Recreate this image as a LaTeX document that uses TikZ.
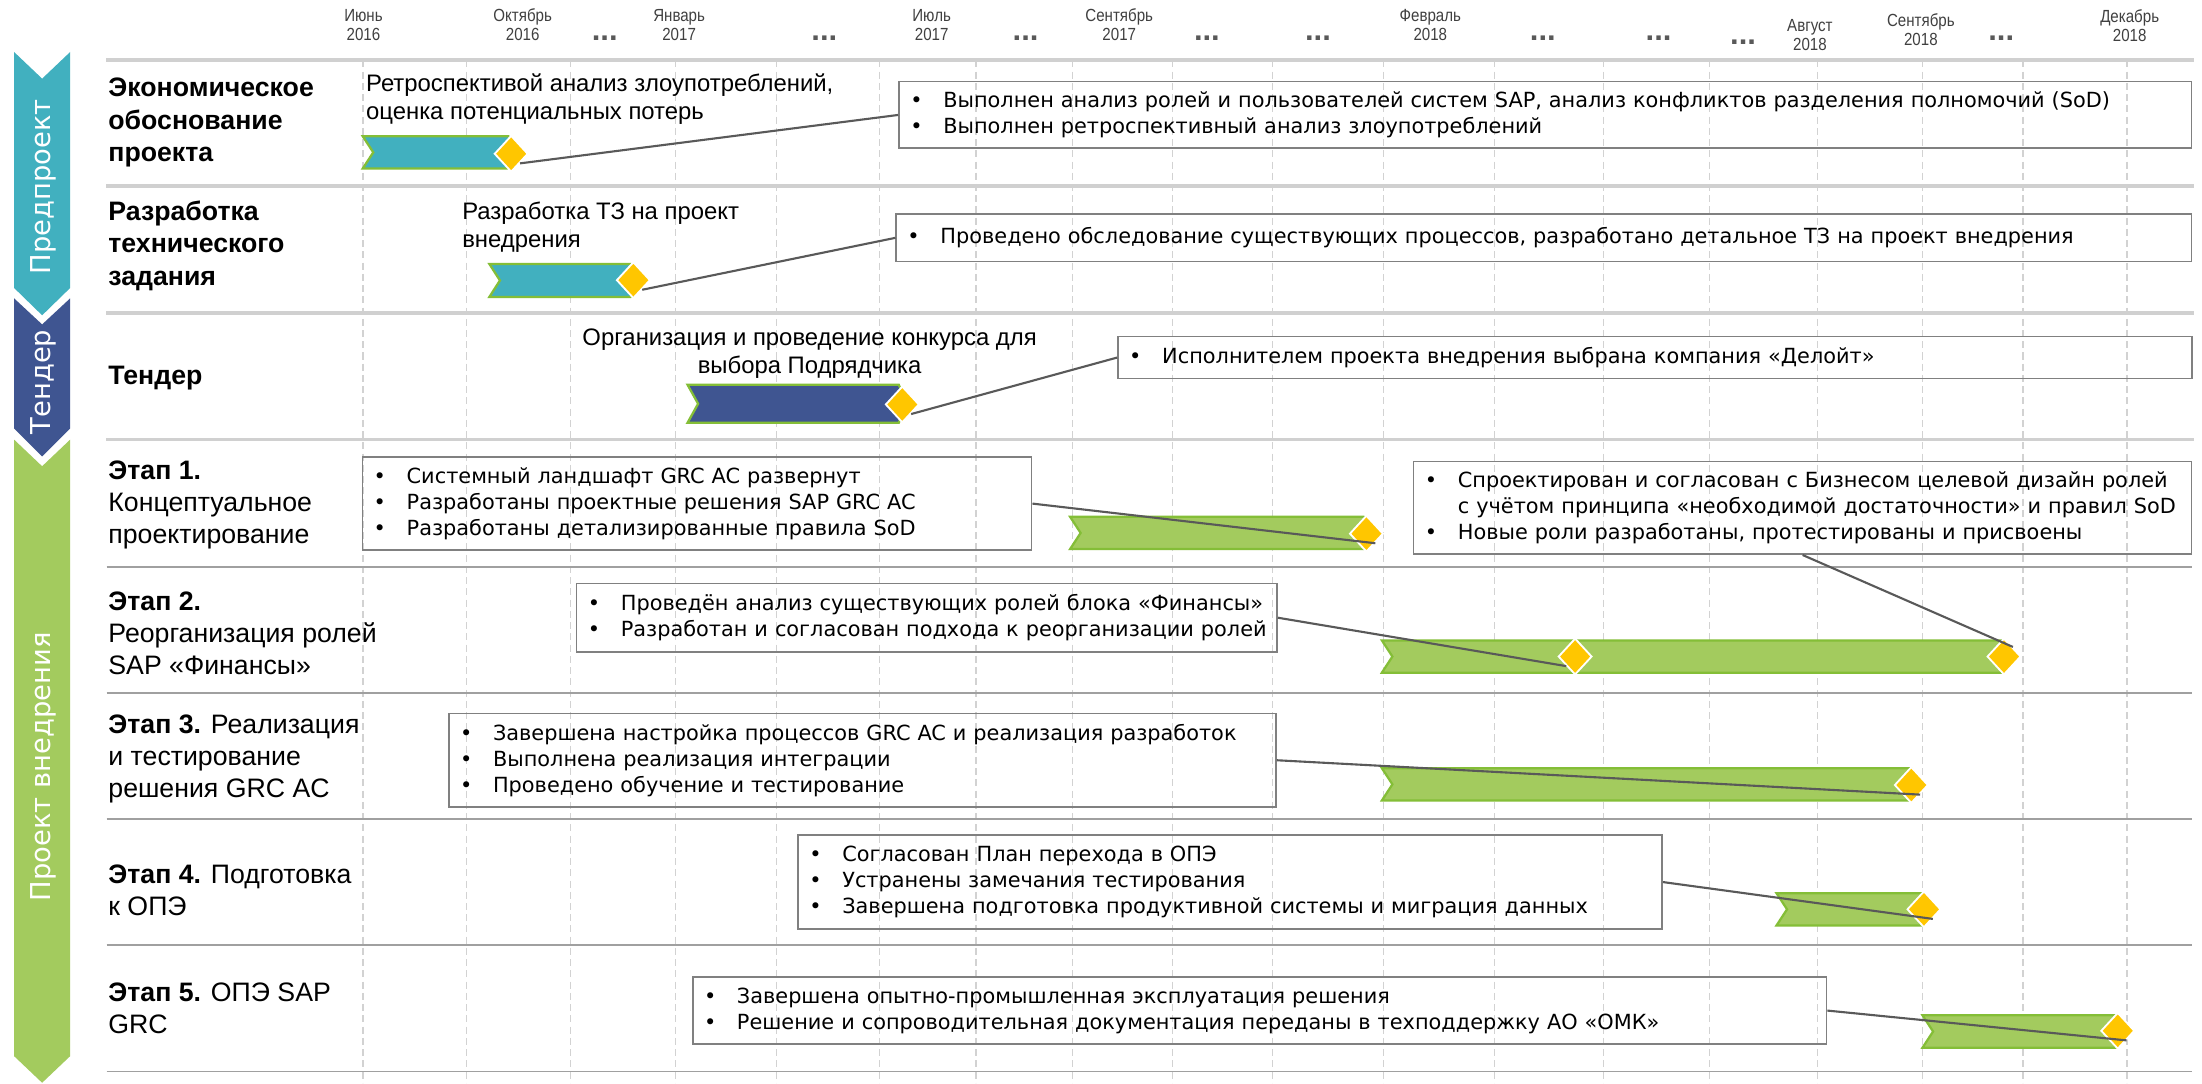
\documentclass[tikz,border=0pt]{standalone}
\usepackage{fontspec}
\setmainfont{Liberation Sans}
\newfontfamily\boxfont{DejaVu Sans}
\newfontfamily\datefont{Liberation Sans}[FakeStretch=0.86]
\usepackage{tikz}
\usetikzlibrary{shapes.geometric,positioning,calc}
\definecolor{omkTeal}{RGB}{65,176,191}
\definecolor{omkBlue}{RGB}{63,85,145}
\definecolor{omkGreen}{RGB}{163,203,94}
\definecolor{omkEdge}{RGB}{132,190,55}
\definecolor{omkYellow}{RGB}{255,198,0}
\definecolor{omkGrid}{RGB}{210,210,210}
\definecolor{omkRule}{RGB}{208,208,208}
\definecolor{omkRuleDark}{RGB}{160,160,160}
\definecolor{omkBox}{RGB}{128,128,128}
\definecolor{omkLine}{RGB}{89,89,89}
\definecolor{omkDate}{RGB}{64,64,64}
\newcommand{\bitem}[1]{\mbox{\makebox[23.5pt][l]{\textbullet}#1}}
\newcommand{\bcont}[1]{\mbox{\hspace*{23.5pt}#1}}
% fill colour, x from, x to, y middle, half height
\newcommand{\ganttbar}[5]{%
  \filldraw[ganttedge,fill=#1] (#2,#4-#5) -- (#3,#4-#5) -- (#3+6,#4) -- (#3,#4+#5) -- (#2,#4+#5) -- (#2+7.5,#4) -- cycle;}

\begin{document}
\begin{tikzpicture}[x=1pt,y=-1pt,
  gridline/.style={draw=omkGrid,line width=0.8pt,dash pattern=on 5pt off 3pt},
  seprule/.style={draw=omkRule,line width=2.6pt},
  thinrule/.style={draw=omkRuleDark,line width=1.2pt},
  ganttedge/.style={draw=omkEdge,line width=1.6pt,line join=miter},
  ms/.style={diamond,fill=omkYellow,draw=white,line width=1.3pt,minimum width=24pt,minimum height=26pt,inner sep=0pt},
  infobox/.style={draw=omkBox,line width=1.2pt,anchor=north west,inner xsep=8pt,inner ysep=0pt,align=left,font=\boxfont\fontsize{14.85}{18.4}\selectfont},
  lbl/.style={anchor=west,align=left,inner sep=0pt,font=\fontsize{19}{23}\selectfont},
  toptext/.style={align=left,inner sep=0pt,font=\fontsize{17}{20}\selectfont},
  datelbl/.style={align=center,inner sep=0pt,text=omkDate,font=\datefont\fontsize{12.5}{13.5}\selectfont},
  gapdots/.style={inner sep=0pt,text=omkLine,font=\bfseries\fontsize{22}{22}\selectfont},
  phase/.style={rotate=90,text=white,inner sep=0pt,font=\boxfont\fontsize{19.5}{20}\selectfont},
  link/.style={draw=omkLine,line width=1.5pt}
]
  \path[fill=white] (0,0) rectangle (1568,771);

  % time scale
  \foreach \gx in {258.5,332,406,480.7,553,626,695,764,834.6,905.8,985,1064,1141.5,1217,1294,1368.7,1440.5,1514.6}
    \draw[gridline] (\gx,43) -- (\gx,771);
  \foreach \dx/\dy/\dt [count=\i] in {258.8/17.5/Июнь\\2016, 372.2/17.5/Октябрь\\2016, 483.6/17.5/Январь\\2017,
      663.4/17.5/Июль\\2017, 797/17.5/Сентябрь\\2017, 1018.5/17.5/Февраль\\2018,
      1288.8/24.7/Август\\2018, 1367.8/21.4/Сентябрь\\2018, 1516.5/18/Декабрь\\2018}
    \node[datelbl] (d\i) at (\dx,\dy) {\dt};
  \foreach \dx/\dy [count=\i] in {430.6/27, 587/27, 730.3/27, 859.4/27, 938.5/27, 1098.6/27, 1181/27, 1241.2/30, 1425/27}
    \node[gapdots] (gap\i) at (\dx,\dy) {...};

  % row separators
  \foreach \sy in {42.7,132.5,223,313}
    \draw[seprule] (75.5,\sy) -- (1562,\sy);
  \foreach \sy in {403.5,493.5,583.2,673,763}
    \draw[thinrule] (76,\sy) -- (1561,\sy);

  % phase ribbon
  \fill[omkTeal] (10,37) -- (30,56) -- (50,37) -- (50,205) -- (30,224.5) -- (10,205) -- cycle;
  \fill[omkBlue] (10,212.4) -- (30,231) -- (50,212.4) -- (50,305) -- (30,325) -- (10,305) -- cycle;
  \fill[omkGreen] (10,313) -- (30,332) -- (50,313) -- (50,752) -- (30,771) -- (10,752) -- cycle;
  \node[phase] (pre) at (31,133) {Предпроект};
  \node[phase] (ten) at (31,272) {Тендер};
  \node[phase] (impl) at (31,546) {Проект внедрения};

  % row labels
  \node[lbl] (l1) at (77,87.2) {\textbf{Экономическое}\\\textbf{обоснование}\\\textbf{проекта}};
  \node[lbl] (l2) at (77,175) {\textbf{Разработка}\\\textbf{технического}\\\textbf{задания}};
  \node[lbl] (l3) at (77,269) {\textbf{Тендер}};
  \node[lbl] (l4) at (77,359.7) {\textbf{Этап 1.}\\Концептуальное\\проектирование};
  \node[lbl] (l5) at (77,451) {\textbf{Этап 2.}\\Реорганизация ролей\\SAP «Финансы»};
  \node[lbl] (l6) at (77,540.4) {\textbf{Этап 3.} Реализация\\и тестирование\\решения GRC AC};
  \node[lbl] (l7) at (77,634) {\textbf{Этап 4.} Подготовка\\к ОПЭ};
  \node[lbl] (l8) at (77,718) {\textbf{Этап 5.} ОПЭ SAP\\GRC};

  % bars
  \ganttbar{omkTeal}{258.3}{362}{108.5}{11.5}
  \ganttbar{omkTeal}{348.5}{449}{199.7}{11.7}
  \ganttbar{omkBlue}{489.6}{640}{287.5}{13.5}
  \ganttbar{omkGreen}{762}{971}{379.5}{11.5}
  \ganttbar{omkGreen}{984}{1427}{467.5}{11.5}
  \ganttbar{omkGreen}{984}{1361}{558.5}{11.5}
  \ganttbar{omkGreen}{1265}{1370}{647.5}{11.5}
  \ganttbar{omkGreen}{1369}{1508}{734.5}{11.5}

  % milestones
  \node[ms] (m1) at (364,109.5) {};
  \node[ms] (m2) at (451,199.5) {};
  \node[ms] (m3) at (642.5,288) {};
  \node[ms] (m4) at (973,380) {};
  \node[ms] (m5) at (1121.6,467.5) {};
  \node[ms] (m6) at (1427,467.5) {};
  \node[ms] (m7) at (1361,559) {};
  \node[ms] (m8) at (1370,647.5) {};
  \node[ms] (m9) at (1508,734) {};

  % texts over bars
  \node[toptext,anchor=west] (t1) at (260.5,70.5) {Ретроспективой анализ злоупотреблений,\\оценка потенциальных потерь};
  \node[toptext,anchor=west] (t2) at (329,162) {Разработка ТЗ на проект\\внедрения};
  \node[toptext,align=center] (t3) at (576.5,252) {Организация и проведение конкурса для\\выбора Подрядчика};

  % result boxes
  \node[infobox,minimum width=920.4pt,minimum height=47.5pt,text width=904.4pt] (b1) at (639.6,57.5)
    {\bitem{Выполнен анализ ролей и пользователей систем SAP, анализ конфликтов разделения полномочий (SoD)}\\
     \bitem{Выполнен ретроспективный анализ злоупотреблений}};
  \node[infobox,minimum width=922.4pt,minimum height=33.5pt,text width=906.4pt] (b2) at (637.6,152)
    {\bitem{Проведено обследование существующих процессов, разработано детальное ТЗ на проект внедрения}};
  \node[infobox,minimum width=765pt,minimum height=30pt,text width=749pt] (b3) at (795.5,239)
    {\bitem{Исполнителем проекта внедрения выбрана компания «Делойт»}};
  \node[infobox,minimum width=476.5pt,minimum height=66pt,text width=460.5pt] (b4) at (257.5,325)
    {\bitem{Системный ландшафт GRC AC развернут}\\
     \bitem{Разработаны проектные решения SAP GRC AC}\\
     \bitem{Разработаны детализированные правила SoD}};
  \node[infobox,minimum width=554pt,minimum height=66pt,text width=538pt] (b5) at (1006,328)
    {\bitem{Спроектирован и согласован с Бизнесом целевой дизайн ролей}\\
     \bcont{с учётом принципа «необходимой достаточности» и правил SoD}\\
     \bitem{Новые роли разработаны, протестированы и присвоены}};
  \node[infobox,minimum width=498.7pt,minimum height=48.5pt,text width=482.7pt] (b6) at (410,415)
    {\bitem{Проведён анализ существующих ролей блока «Финансы»}\\
     \bitem{Разработан и согласован подхода к реорганизации ролей}};
  \node[infobox,minimum width=589pt,minimum height=66.5pt,text width=573pt] (b7) at (319,507.5)
    {\bitem{Завершена настройка процессов GRC AC и реализация разработок}\\
     \bitem{Выполнена реализация интеграции}\\
     \bitem{Проведено обучение и тестирование}};
  \node[infobox,minimum width=615.3pt,minimum height=67pt,text width=599.3pt] (b8) at (567.7,594)
    {\bitem{Согласован План перехода в ОПЭ}\\
     \bitem{Устранены замечания тестирования}\\
     \bitem{Завершена подготовка продуктивной системы и миграция данных}};
  \node[infobox,minimum width=807.3pt,minimum height=48pt,text width=791.3pt] (b9) at (492.7,695)
    {\bitem{Завершена опытно-промышленная эксплуатация решения}\\
     \bitem{Решение и сопроводительная документация переданы в техподдержку АО «ОМК»}};

  % callouts
  \draw[link] (b1.west) -- (m1.south east);
  \draw[link] (b2.west) -- (m2.south east);
  \draw[link] (b3.west) -- (m3.south east);
  \draw[link] (b4.east) -- (m4.south east);
  \draw[link] (b6.east) -- (m5.south west);
  \draw[link] (b5.south) -- (m6.north east);
  \draw[link] (b7.east) -- (m7.south east);
  \draw[link] (b8.east) -- (m8.south east);
  \draw[link] (b9.east) -- (m9.south east);
\end{tikzpicture}
\end{document}
